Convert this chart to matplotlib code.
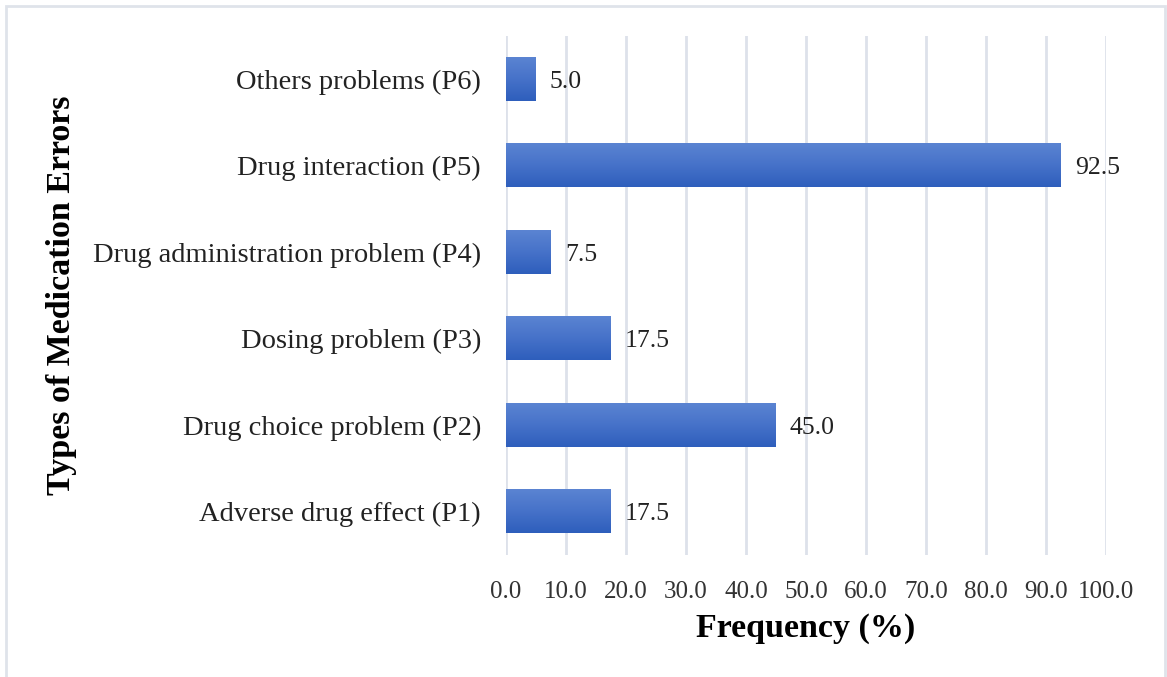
import numpy as np
import matplotlib.pyplot as plt
from matplotlib.colors import LinearSegmentedColormap
from matplotlib.patches import Rectangle

categories = ["Adverse drug effect (P1)", "Drug choice problem (P2)", "Dosing problem (P3)",
              "Drug administration problem (P4)", "Drug interaction (P5)", "Others problems (P6)"]
values = [17.5, 45.0, 17.5, 7.5, 92.5, 5.0]
xticks = [0, 10, 20, 30, 40, 50, 60, 70, 80, 90, 100]

plt.rcParams["font.family"] = ["Liberation Serif", "DejaVu Serif"]

W, H = 1167, 677
fig = plt.figure(figsize=(W / 100, H / 100), dpi=100)
ax = fig.add_axes([506 / W, 1 - 555 / H, 600 / W, (555 - 36) / H])

# light frame around the whole chart
fig.patches.append(Rectangle((6 / W, -0.02), 1159 / W, 1 - 6 / H + 0.02,
                             transform=fig.transFigure, fill=False,
                             edgecolor="#dfe3ea", linewidth=2))

grad = LinearSegmentedColormap.from_list("g", ["#2e5ebc", "#4672c9", "#5b84d2"])
gradient = np.linspace(0, 1, 256).reshape(-1, 1)
h = 0.5
y = np.arange(len(categories))
bars = ax.barh(y, values, height=h, color="none", edgecolor="none", zorder=2)
for b, v in zip(bars, values):
    x0, y0 = b.get_x(), b.get_y()
    ax.imshow(gradient, cmap=grad, aspect="auto", origin="lower",
              extent=[x0, x0 + b.get_width(), y0, y0 + b.get_height()], zorder=2)
    ax.text(v + 2.3, y0 + h / 2 - 0.03, f"{v:.1f}", va="center", ha="left", fontsize=18.5, color="#222222")

ax.set_xlim(0, 100)
ax.set_ylim(-0.5, len(categories) - 0.5)
ax.set_xticks(xticks)
ax.set_xticklabels([f"{t:.1f}" for t in xticks], fontsize=18, color="#333333")
ax.set_yticks(y)
ax.set_yticklabels(categories, fontsize=20.5, color="#222222")
ax.tick_params(axis="y", length=0, pad=18)
ax.tick_params(axis="x", length=0, pad=19)
ax.grid(axis="x", color="#dde1ea", linewidth=2, zorder=0)
ax.set_axisbelow(True)
for s in ax.spines.values():
    s.set_visible(False)

ax.set_xlabel("Frequency (%)", fontsize=24.5, fontweight="bold", labelpad=7)
fig.text(62 / W, 1 - 295 / H, "Types of Medication Errors", rotation=90,
         fontsize=24.5, fontweight="bold", ha="center", va="center")

fig.savefig("out.png", dpi=100)
